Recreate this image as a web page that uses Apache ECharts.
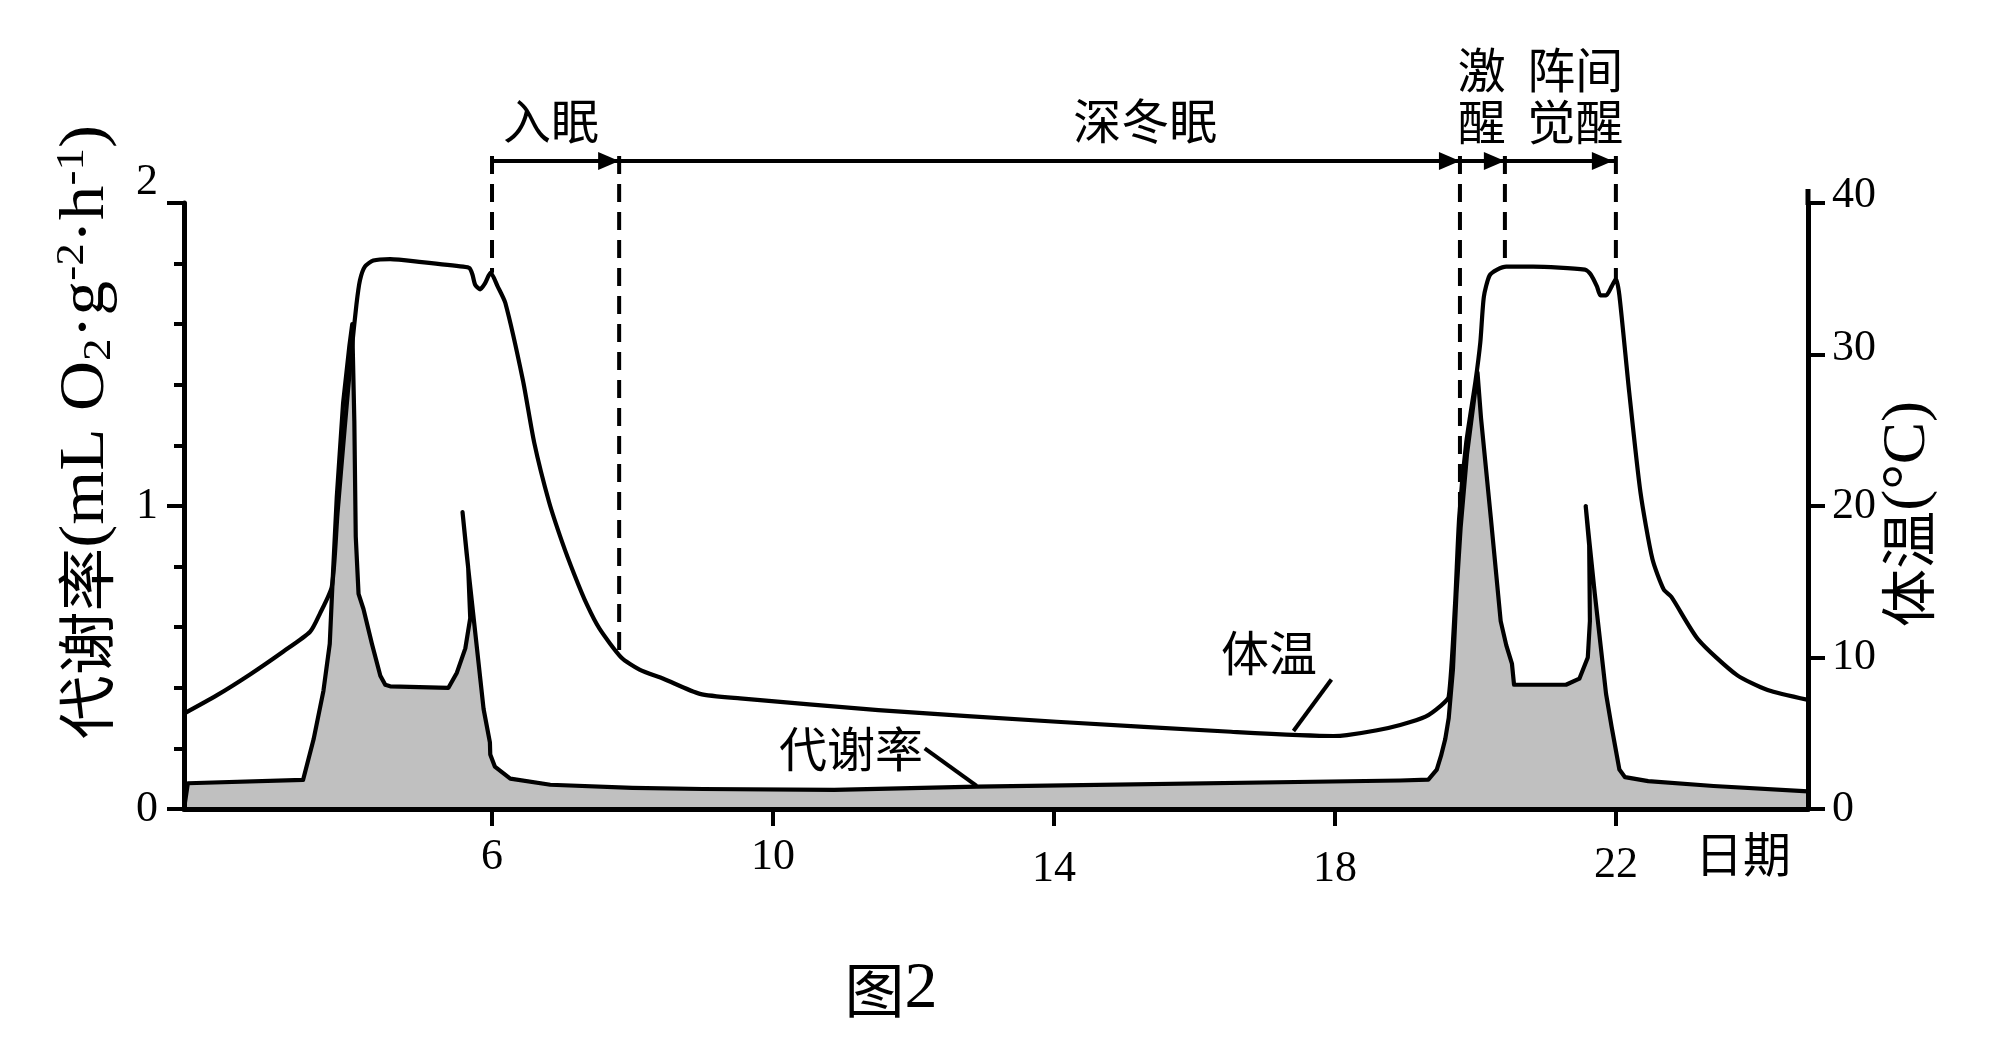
<!DOCTYPE html>
<html>
<head>
<meta charset="utf-8">
<script src="https://cdn.jsdelivr.net/npm/echarts@6.0.0/dist/echarts.min.js"></script>
<style>
html,body{margin:0;padding:0;background:#ffffff;}
#chart{width:2001px;height:1052px;}
</style>
</head>
<body>
<div id="chart"></div>
<script>
// ---------------- data ----------------
const dayTicks = [6, 10, 14, 18, 22];
const rateTicks = [0, 1, 2];
const tempTicks = [0, 10, 20, 30, 40];

// body temperature (°C) : [day, value]
const bodyTemp = [
  [1.615, 6.3], [2.08, 7.5], [2.56, 8.9], [3.03, 10.4], [3.41, 11.7], [3.55, 12.9], [3.72, 14.7],
  [3.80, 19.5], [3.90, 25.0], [4.00, 30.2], [4.07, 33.3], [4.12, 34.9], [4.19, 35.8], [4.31, 36.2],
  [4.55, 36.3], [5.00, 36.1], [5.59, 35.8], [5.68, 35.7], [5.72, 35.3], [5.76, 34.6], [5.83, 34.3],
  [5.90, 34.7], [5.98, 35.4], [6.08, 34.5], [6.19, 33.4], [6.44, 28.3], [6.60, 24.2], [6.81, 20.3],
  [7.00, 17.6], [7.17, 15.5], [7.35, 13.5], [7.53, 11.9], [7.84, 10.0], [8.10, 9.2], [8.44, 8.6],
  [8.96, 7.6], [9.53, 7.3], [11.5, 6.53], [14.04, 5.76], [16.52, 5.1], [17.98, 4.82], [18.17, 4.88],
  [18.6, 5.2], [18.93, 5.55], [19.29, 6.1], [19.51, 6.83], [19.62, 7.4], [19.71, 13.5], [19.77, 19.3],
  [19.87, 24.2], [20.00, 28.2], [20.07, 30.8], [20.12, 33.8], [20.20, 35.2], [20.31, 35.6], [20.44, 35.8],
  [20.82, 35.8], [21.56, 35.6], [21.64, 35.3], [21.73, 34.5], [21.78, 33.9], [21.86, 33.9], [21.94, 34.5],
  [22.00, 35.0], [22.05, 33.9], [22.19, 27.5], [22.35, 20.9], [22.52, 16.5], [22.68, 14.5], [22.79, 14.0],
  [23.17, 11.2], [23.72, 8.85], [24.16, 7.85], [24.735, 7.2]
];

// metabolic rate (mL O2·g-2·h-1) : [day, value]
const metabolicRate = [
  [1.615, 0.0], [1.67, 0.085], [3.31, 0.096], [3.46, 0.23], [3.60, 0.39], [3.69, 0.545], [3.73, 0.75],
  [3.79, 1.03], [3.88, 1.34], [3.97, 1.53], [4.01, 1.60], [4.04, 1.28], [4.06, 0.90], [4.10, 0.71],
  [4.17, 0.66], [4.29, 0.545], [4.41, 0.44], [4.48, 0.41], [4.55, 0.405], [5.38, 0.40], [5.50, 0.45],
  [5.62, 0.53], [5.69, 0.63], [5.66, 0.80], [5.58, 0.98], [5.64, 0.84], [5.88, 0.33], [5.97, 0.22],
  [5.975, 0.18], [6.04, 0.14], [6.26, 0.10], [6.83, 0.08], [8.0, 0.07], [9.0, 0.066], [10.87, 0.063],
  [12.9, 0.074], [18.93, 0.094], [19.33, 0.097], [19.45, 0.13], [19.51, 0.175], [19.57, 0.23],
  [19.62, 0.30], [19.68, 0.46], [19.73, 0.71], [19.79, 0.93], [19.88, 1.17], [20.03, 1.44], [20.08, 1.29],
  [20.22, 0.96], [20.36, 0.62], [20.44, 0.54], [20.52, 0.48], [20.55, 0.41], [21.29, 0.41], [21.48, 0.43],
  [21.60, 0.50], [21.63, 0.62], [21.62, 0.87], [21.57, 1.00], [21.70, 0.71], [21.86, 0.38], [21.94, 0.27],
  [22.05, 0.13], [22.13, 0.105], [22.46, 0.092], [23.39, 0.076], [24.735, 0.058]
];

// phase annotations
const phaseBoundaryDays = [6, 7.81, 19.78, 20.42, 22];
const phaseBoundaryTemps = [35.4, 10.0, 19.3, 35.8, 35.0];
const phaseNames = ['入眠', '深冬眠', '激\n醒', '阵间\n觉醒'];
const phaseLabelDays = [6.84, 15.3, 20.09, 21.42];

// ---------------- chart ----------------
const SERIF = '"Liberation Serif", "Times New Roman", serif';
const CJK = '"Noto Sans CJK SC", "Noto Sans", sans-serif';

const chart = echarts.init(document.getElementById('chart'), null, {renderer: 'canvas'});

const axisLineStyle = {color: '#000', width: 5};
const tickStyle = {color: '#000', width: 4};
const lab = (extra) => Object.assign({fontFamily: SERIF, fontSize: 44, color: '#000'}, extra || {});

const option = {
  animation: false,
  backgroundColor: '#ffffff',
  grid: {left: 184, right: 193, top: 203, bottom: 243, containLabel: false},
  xAxis: {
    type: 'value', min: 1.615, max: 24.735, z: 5,
    axisLine: {show: true, onZero: false, lineStyle: axisLineStyle},
    axisTick: {show: true, customValues: dayTicks, length: 17, inside: false, lineStyle: tickStyle},
    axisLabel: {
      show: true, customValues: dayTicks, fontFamily: SERIF, fontSize: 44, color: '#000', margin: 26,
      formatter: v => (v === dayTicks[2] || v === dayTicks[3]) ? '{lo|' + v + '}' : (v === dayTicks[4] ? '{mid|' + v + '}' : '{n|' + v + '}'),
      rich: {lo: lab({padding: [12, 0, 0, 0]}), mid: lab({padding: [8, 0, 0, 0]}), n: lab()}
    },
    splitLine: {show: false}
  },
  yAxis: [
    {
      type: 'value', min: 0, max: 2, interval: 1, position: 'left', z: 5,
      axisLine: {show: true, lineStyle: axisLineStyle},
      axisTick: {show: true, length: 17, inside: false, lineStyle: tickStyle},
      minorTick: {show: true, splitNumber: 5, length: 10, lineStyle: tickStyle},
      axisLabel: {
        fontFamily: SERIF, fontSize: 44, color: '#000', margin: 26,
        formatter: v => (v === rateTicks[2] ? '{up|' + v + '}' : '{n|' + v + '}'),
        rich: {up: lab({padding: [0, 0, 42, 0]}), n: lab()}
      },
      splitLine: {show: false}, minorSplitLine: {show: false}
    },
    {
      type: 'value', min: 0, max: 40, interval: 10, position: 'right', z: 5,
      axisLine: {show: true, lineStyle: axisLineStyle},
      axisTick: {show: true, length: 17, inside: false, lineStyle: tickStyle},
      axisLabel: {
        fontFamily: SERIF, fontSize: 44, color: '#000', margin: 24,
        formatter: v => (v === tempTicks[4] ? '{a|' + v + '}' : (v === tempTicks[3] ? '{b|' + v + '}' : '{n|' + v + '}')),
        rich: {a: lab({padding: [0, 0, 16, 0]}), b: lab({padding: [0, 0, 12, 0]}), n: lab()}
      },
      splitLine: {show: false}
    }
  ],
  series: [
    {
      name: '代谢率', type: 'line', xAxisIndex: 0, yAxisIndex: 0, data: metabolicRate,
      symbol: 'none', smooth: false, z: 2,
      lineStyle: {color: '#000', width: 4.2, join: 'round'},
      areaStyle: {color: '#c0c0c0', opacity: 1}
    },
    {
      name: '体温', type: 'line', xAxisIndex: 0, yAxisIndex: 1, data: bodyTemp,
      symbol: 'none', smooth: 0.22, z: 3,
      lineStyle: {color: '#000', width: 4.2, join: 'round'}
    }
  ]
};
chart.setOption(option);

// ---------------- annotations ----------------
const T = (d, v) => chart.convertToPixel({seriesIndex: 1}, [d, v]);
const R = (d, v) => chart.convertToPixel({seriesIndex: 0}, [d, v]);
const yTop = T(dayTicks[0], tempTicks[4])[1];
const yBase = T(dayTicks[0], 0)[1];
const xLeft = R(1.615, 0)[0];
const xRight = R(24.735, 0)[0];
const arrowY = yTop - 42;

function txt(x, y, text, fontSize, family, extra) {
  return {
    type: 'text', x: x, y: y, z: 20,
    style: Object.assign({
      legacy: false, text: text, x: 0, y: 0, fill: '#000',
      fontSize: fontSize, fontFamily: family,
      align: 'center', verticalAlign: 'middle'
    }, extra || {})
  };
}

const g = [];
// right axis extends a little above 40
g.push({type: 'line', z: 20, shape: {x1: xRight, y1: yTop - 14, x2: xRight, y2: yTop + 2}, style: {stroke: '#000', lineWidth: 5}});

// dashed phase boundaries
phaseBoundaryDays.forEach((d, i) => {
  const p = T(d, phaseBoundaryTemps[i]);
  g.push({type: 'line', z: 20, shape: {x1: p[0], y1: arrowY - 5, x2: p[0], y2: p[1]},
    style: {stroke: '#000', lineWidth: 4, lineDash: [18, 10]}});
});
// arrow line
const xa = T(phaseBoundaryDays[0], 0)[0];
const xb = T(phaseBoundaryDays[4], 0)[0];
g.push({type: 'line', z: 20, shape: {x1: xa, y1: arrowY, x2: xb, y2: arrowY}, style: {stroke: '#000', lineWidth: 4}});
for (let i = 1; i < phaseBoundaryDays.length; i++) {
  const tip = T(phaseBoundaryDays[i], 0)[0] - (i === 4 ? 3 : 0);
  g.push({type: 'polygon', z: 21, shape: {points: [[tip - 21, arrowY - 9], [tip, arrowY], [tip - 21, arrowY + 9]]},
    style: {fill: '#000'}});
}
// phase labels
phaseNames.forEach((name, i) => {
  const x = T(phaseLabelDays[i], 0)[0];
  const twoLine = name.indexOf('\n') >= 0;
  const y = twoLine ? yTop - 107 : yTop - 82;
  g.push(txt(x, y, name, 48, CJK, {lineHeight: 52}));
});

// series labels with leader lines
const tLab = T(17.06, 10.3);
g.push(txt(tLab[0], tLab[1], '体温', 48, CJK));
const tl1 = T(17.95, 8.55), tl2 = T(17.41, 5.15);
g.push({type: 'line', z: 20, shape: {x1: tl1[0], y1: tl1[1], x2: tl2[0], y2: tl2[1]}, style: {stroke: '#000', lineWidth: 4}});

const rLab = R(11.11, 0.2);
g.push(txt(rLab[0], rLab[1], '代谢率', 48, CJK));
const rl1 = R(12.16, 0.2), rl2 = R(12.9, 0.076);
g.push({type: 'line', z: 20, shape: {x1: rl1[0], y1: rl1[1], x2: rl2[0], y2: rl2[1]}, style: {stroke: '#000', lineWidth: 4}});

// x-axis name
const dateP = R(23.81, 0);
g.push(txt(dateP[0], dateP[1] + 45, '日期', 48, CJK));

// left axis title
g.push({
  type: 'text', x: xLeft - 98, y: 432, rotation: Math.PI / 2, scaleX: 1.1, z: 20,
  style: {
    legacy: false, x: 0, y: 0, align: 'center', verticalAlign: 'middle', fill: '#000',
    text: '{c|代谢率}{s|(mL O}{sb|2}{s|·g}{sp|-2}{s|·h}{sp|-1}{s|)}',
    rich: {
      c: {fontFamily: CJK, fontSize: 58, lineHeight: 68, fill: '#000', verticalAlign: 'middle'},
      s: {fontFamily: SERIF, fontSize: 63, lineHeight: 68, fill: '#000', verticalAlign: 'middle'},
      sb: {fontFamily: SERIF, fontSize: 41, lineHeight: 32, fill: '#000', verticalAlign: 'bottom'},
      sp: {fontFamily: SERIF, fontSize: 41, lineHeight: 36, fill: '#000', verticalAlign: 'top'}
    }
  }
});
// right axis title
g.push({
  type: 'text', x: xRight + 100, y: (yTop + yBase) / 2 + 8, rotation: Math.PI / 2, scaleX: 1.04, z: 20,
  style: {
    legacy: false, x: 0, y: 0, align: 'center', verticalAlign: 'middle', fill: '#000',
    text: '{c|体温}{s|(°C)}',
    rich: {
      c: {fontFamily: CJK, fontSize: 56, lineHeight: 66, fill: '#000'},
      s: {fontFamily: SERIF, fontSize: 61, lineHeight: 66, fill: '#000'}
    }
  }
});
// figure caption
const capP = R(11.68, 0);
g.push({
  type: 'text', x: capP[0], y: yBase + 181, z: 20,
  style: {
    legacy: false, x: 0, y: 0, align: 'center', verticalAlign: 'middle', fill: '#000',
    text: '{c|图}{s|2}',
    rich: {
      c: {fontFamily: CJK, fontSize: 60, lineHeight: 68, fill: '#000'},
      s: {fontFamily: SERIF, fontSize: 66, lineHeight: 68, fill: '#000'}
    }
  }
});

chart.setOption({graphic: {elements: g}});
</script>
</body>
</html>
